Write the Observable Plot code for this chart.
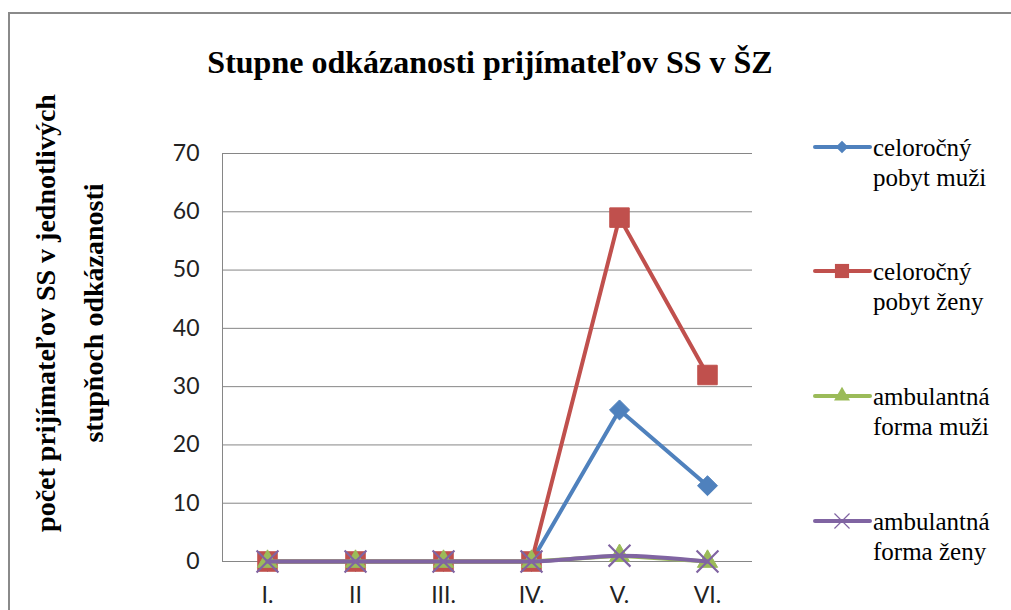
<!DOCTYPE html>
<html>
<head>
<meta charset="utf-8">
<script src="https://cdn.jsdelivr.net/npm/d3@7"></script>
<script src="https://cdn.jsdelivr.net/npm/@observablehq/plot@0.6"></script>
<style>
  html, body { margin: 0; padding: 0; background: #fff; }
  #wrap { position: relative; width: 1011px; height: 610px; overflow: hidden; }
  #frame { position: absolute; left: 8px; top: 12px; width: 1100px; height: 700px; border: 2px solid #8a8a8a; box-sizing: border-box; }
  #title { position: absolute; left: 0; width: 980px; top: 44px; text-align: center; font-family: "Liberation Serif", "Times New Roman", "DejaVu Serif", serif; font-weight: bold; font-size: 32px; color: #000; }
  #ylab { position: absolute; left: 70px; top: 313px; transform: translate(-50%, -50%) rotate(-90deg); font-family: "Liberation Serif", "Times New Roman", "DejaVu Serif", serif; font-weight: bold; font-size: 28px; line-height: 48px; text-align: center; white-space: nowrap; color: #000; }
  #chart { position: absolute; left: 0; top: 0; }
  .leg { position: absolute; left: 812px; font-family: "Liberation Serif", "Times New Roman", "DejaVu Serif", serif; font-size: 25px; line-height: 30px; color: #000; }
  .leg svg { position: absolute; left: 0; top: 0; }
  .leg .t { position: absolute; left: 61px; top: 0; white-space: nowrap; }
</style>
</head>
<body>
<div id="wrap">
  <div id="frame"></div>
  <div id="chart"></div>
  <div id="title">Stupne odkázanosti prijímateľov SS v ŠZ</div>
  <div id="ylab">počet prijímateľov SS v jednotlivých<br>stupňoch odkázanosti</div>
  <div id="legend"></div>
</div>
<script>
const categories = ["I.", "II", "III.", "IV.", "V.", "VI."];
const seriesNames = ["celoročný pobyt muži", "celoročný pobyt ženy", "ambulantná forma muži", "ambulantná forma ženy"];
const celorocnyMuzi = [0, 0, 0, 0, 26, 13];
const celorocnyZeny = [0, 0, 0, 0, 59, 32];
const ambulantnaMuzi = [0, 0, 0, 0, 1, 0];
const ambulantnaZeny = [0, 0, 0, 0, 1, 0];
const yTicks = [0, 10, 20, 30, 40, 50, 60, 70];
const colors = ["#4F81BD", "#C0504D", "#9BBB59", "#8064A2"];
const legendLines = [["celoročný", "pobyt muži"], ["celoročný", "pobyt ženy"], ["ambulantná", "forma muži"], ["ambulantná", "forma ženy"]];

const allValues = [celorocnyMuzi, celorocnyZeny, ambulantnaMuzi, ambulantnaZeny];
const table = seriesNames.map((s, i) => categories.map((c, j) => ({series: s, cat: c, value: allValues[i][j]})));
const [dBlue, dRed, dGreen, dPurple] = table;

const tickFont = "Lato, 'Open Sans', sans-serif";
const plot = Plot.plot({
  width: 1011,
  height: 610,
  marginLeft: 222,
  marginRight: 259,
  marginTop: 153,
  marginBottom: 49,
  style: {background: "transparent", overflow: "visible"},
  x: {type: "point", domain: categories, padding: 0.5},
  y: {domain: [0, 70]},
  color: {domain: seriesNames, range: colors},
  marks: [
    Plot.gridY(yTicks, {stroke: "#868686", strokeOpacity: 1, strokeWidth: 1}),
    Plot.frame({anchor: "left", stroke: "#868686", strokeWidth: 1}),
    Plot.axisY(yTicks, {tickSize: 0, tickPadding: 23, fontSize: 23, fontFamily: tickFont, fill: "#222", label: null}),
    Plot.axisX({tickSize: 0, tickPadding: 25, fontSize: 23, fontFamily: tickFont, fill: "#222", label: null}),
    Plot.line(dBlue, {x: "cat", y: "value", stroke: "series", strokeWidth: 4}),
    Plot.dot(dBlue, {x: "cat", y: "value", symbol: "diamond2", r: 9, fill: "series", stroke: "series", strokeWidth: 1}),
    Plot.line(dRed, {x: "cat", y: "value", stroke: "series", strokeWidth: 4}),
    Plot.dot(dRed, {x: "cat", y: "value", symbol: "square", r: 11, fill: "series", stroke: "series", strokeWidth: 1}),
    Plot.line(dGreen, {x: "cat", y: "value", stroke: "series", strokeWidth: 4}),
    Plot.dot(dGreen, {x: "cat", y: "value", symbol: "triangle", r: 7.5, fill: "series", stroke: "series", strokeWidth: 1}),
    Plot.line(dPurple, {x: "cat", y: "value", stroke: "series", strokeWidth: 4, curve: "monotone-x"}),
    Plot.dot(dPurple, {x: "cat", y: "value", symbol: "times", r: 10, stroke: "series", strokeWidth: 2.2})
  ]
});
document.getElementById("chart").appendChild(plot);

// legend
const legTops = [133, 257, 382, 507];
const legSymbols = [d3.symbolDiamond2, d3.symbolSquare, d3.symbolTriangle, d3.symbolTimes];
const legSizes = [100, 200, 110, 150];
const legend = document.getElementById("legend");
seriesNames.forEach((s, i) => {
  const div = document.createElement("div");
  div.className = "leg";
  div.style.top = legTops[i] + "px";
  const svg = d3.create("svg").attr("width", 62).attr("height", 30);
  svg.append("line").attr("x1", 3).attr("x2", 58).attr("y1", 14).attr("y2", 14)
    .attr("stroke", colors[i]).attr("stroke-width", 4).attr("stroke-linecap", "round");
  const sym = svg.append("path").attr("transform", "translate(30,14)")
    .attr("d", d3.symbol(legSymbols[i], legSizes[i])());
  if (i === 3) sym.attr("fill", "none").attr("stroke", colors[i]).attr("stroke-width", 1.2);
  else sym.attr("fill", colors[i]);
  div.appendChild(svg.node());
  const t = document.createElement("div");
  t.className = "t";
  t.innerHTML = legendLines[i][0] + "<br>" + legendLines[i][1];
  div.appendChild(t);
  legend.appendChild(div);
});
</script>
</body>
</html>
